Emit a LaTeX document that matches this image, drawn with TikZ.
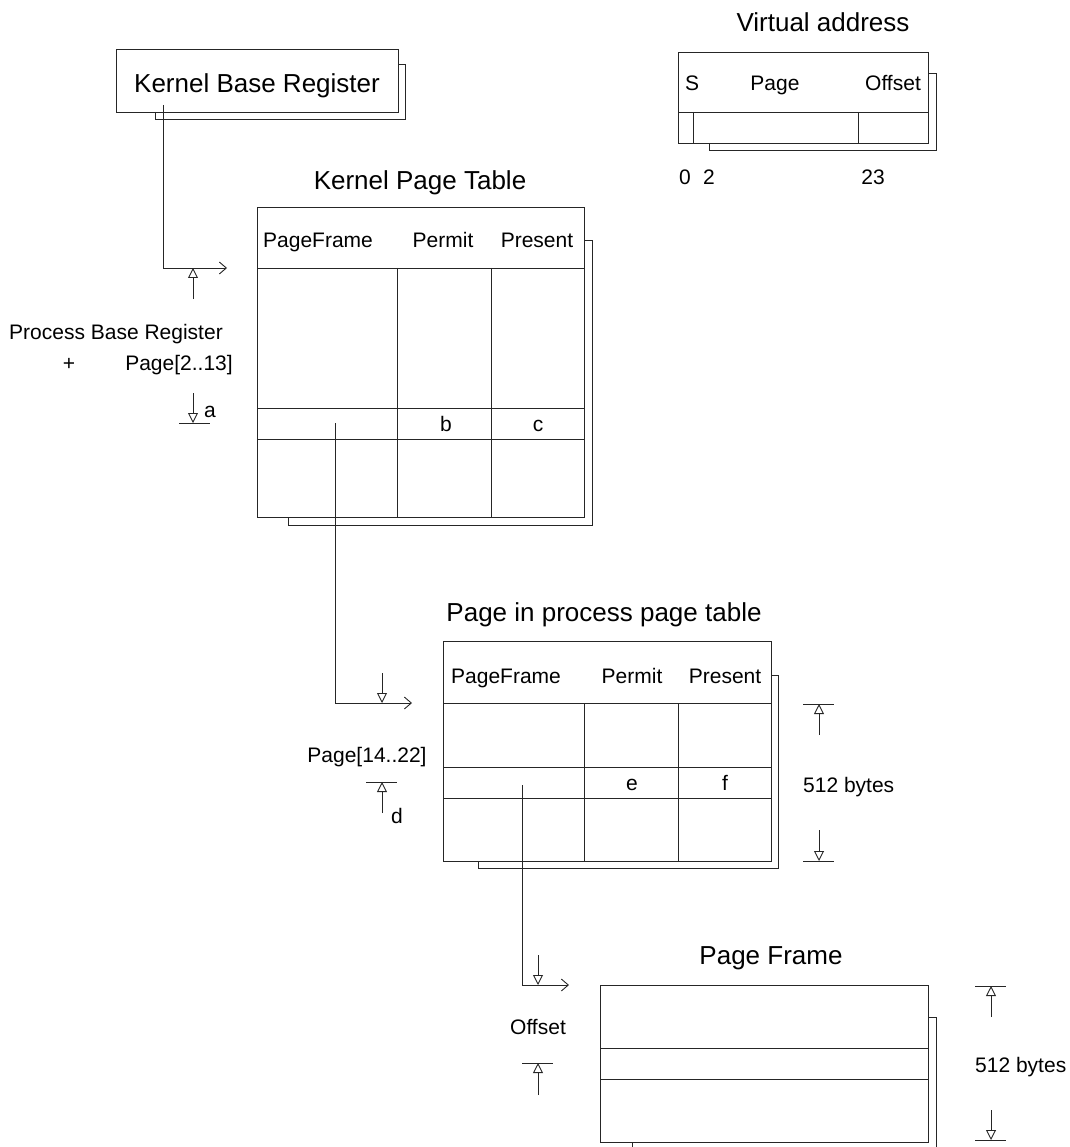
\documentclass[tikz,border=0pt]{standalone}
\usepackage{fontspec}
\setmainfont{Liberation Sans}
\usetikzlibrary{arrows.meta}
\tikzset{
  ln/.style={line width=.9pt,black!85},
  lbl/.style={font=\fontsize{21}{25}\selectfont,inner sep=0pt,text height=20pt,text depth=5pt},
  ttl/.style={font=\fontsize{26}{31}\selectfont,inner sep=0pt,text height=25pt,text depth=6.5pt},
  pointer/.style={ln,-{Straight Barb[length=7pt,width=12pt]}},
  ptr/.style={ln,-{Triangle[open,length=10pt,width=10pt]}},
}

\begin{document}
\begin{tikzpicture}[x=1pt,y=-1pt]
    \useasboundingbox (0,0) rectangle (1069,1147);
    % virtual address
    \draw[ln](709,143)--(709,150)--(936,150)--(936,73)--(928,73);
    \draw[ln](678,52) rectangle (928,143);
    \draw[ln](678,112)--(928,112) (693,112)--(693,143) (858,112)--(858,143);
    \node[ttl](vatitle) at (823,22){Virtual address};
    \node[lbl](vas) at (692,83){S};
    \node[lbl](vapage) at (775,83){Page};
    \node[lbl](vaoff) at (893,83){Offset};
    \node[lbl](bit0) at (685,177){0};
    \node[lbl](bit2) at (709,177){2};
    \node[lbl](bit23) at (873,177){23};
    % kernel base register
    \draw[ln](155,112)--(155,119)--(405,119)--(405,64)--(398,64);
    \draw[ln](116,49) rectangle (398,112);
    \node[ttl](kbr) at (257,83){Kernel Base Register};
    % kernel page table
    \node[ttl](kpttitle) at (420,180){Kernel Page Table};
    \draw[ln](288,517)--(288,525)--(592,525)--(592,240)--(584,240);
    \draw[ln](257,207) rectangle (584,517);
    \draw[ln](257,268)--(584,268) (257,408)--(584,408) (257,439)--(584,439);
    \draw[ln](397,268)--(397,517) (491,268)--(491,517);
    \node[lbl](kptframe) at (318,240){PageFrame};
    \node[lbl](kptpermit) at (443,240){Permit};
    \node[lbl](kptpresent) at (537,240){Present};
    \node[lbl](b) at (446,424){b};
    \node[lbl](c) at (538,424){c};
    % process page table
    \node[ttl](pipttitle) at (604,612){Page in process page table};
    \draw[ln](478,861)--(478,868)--(778,868)--(778,675)--(771,675);
    \draw[ln](443,641) rectangle (771,861);
    \draw[ln](443,703)--(771,703) (443,767)--(771,767) (443,798)--(771,798);
    \draw[ln](584,703)--(584,861) (678,703)--(678,861);
    \node[lbl](piptframe) at (506,676){PageFrame};
    \node[lbl](piptpermit) at (632,676){Permit};
    \node[lbl](piptpresent) at (725,676){Present};
    \node[lbl](e) at (632,783){e};
    \node[lbl](f) at (725,783){f};
    % page frame
    \node[ttl](pftitle) at (771,955){Page Frame};
    \draw[ln](632,1142)--(632,1150)--(936,1150)--(936,1017)--(928,1017);
    \draw[ln](600,985) rectangle (928,1142);
    \draw[ln](600,1048)--(928,1048) (600,1079)--(928,1079);
    % pointers
    \coordinate (kbrout) at (163,105);
    \coordinate (kptin) at (227,268);
    \coordinate (kptout) at (335,423);
    \coordinate (piptin) at (412,703);
    \coordinate (piptout) at (522,785);
    \coordinate (pfin) at (569,985);
    \draw[pointer](kbrout)|-(kptin);
    \draw[pointer](kptout)|-(piptin);
    \draw[pointer](piptout)|-(pfin);
    % index into kernel page table
    \node[lbl](pbr) at (116,332){Process Base Register};
    \node[lbl](plus) at (69,363){+};
    \node[lbl](pg213) at (179,363){Page[2..13]};
    \draw[ptr](193,299)--(193,268);
    \draw[ptr](193,393)--(193,423);
    \draw[ln](179,423)--(210,423);
    \node[lbl](a) at (210,410){a};
    % index into process page table
    \node[lbl](pg1422) at (367,755){Page[14..22]};
    \draw[ptr](382,673)--(382,703);
    \draw[ptr](382,813)--(382,782);
    \draw[ln](366,782)--(397,782);
    \node[lbl](d) at (397,816){d};
    % offset into page frame
    \node[lbl](off) at (538,1027){Offset};
    \draw[ptr](538,955)--(538,985);
    \draw[ptr](538,1095)--(538,1063);
    \draw[ln](522,1063)--(553,1063);
    % sizes
    \draw[ln](803,704)--(834,704) (803,861)--(834,861);
    \draw[ptr](819,735)--(819,704);
    \draw[ptr](819,830)--(819,861);
    \node[lbl,anchor=west](bytesa) at (803,785){512 bytes};
    \draw[ln](975,986)--(1006,986) (975,1140)--(1006,1140);
    \draw[ptr](991,1017)--(991,986);
    \draw[ptr](991,1110)--(991,1140);
    \node[lbl,anchor=west](bytesb) at (975,1065){512 bytes};
  \end{tikzpicture}
\end{document}
